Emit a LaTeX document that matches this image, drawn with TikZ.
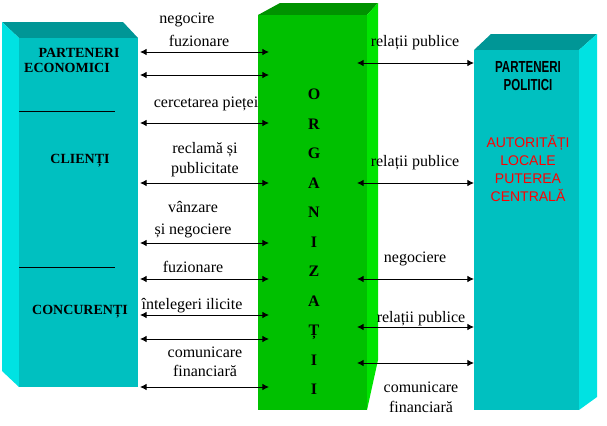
\documentclass[tikz,border=0pt]{standalone}
\usepackage{fontspec}
\setmainfont{Liberation Serif}
\newfontfamily\narrowfont[FakeStretch=0.72]{Liberation Sans}
\newfontfamily\arialfont{Liberation Sans}
\usepackage{xcolor}
\usepackage{tikz}
\usetikzlibrary{arrows.meta}

\definecolor{tealfront}{RGB}{0,192,192}
\definecolor{tealside}{RGB}{0,226,226}
\definecolor{tealtop}{RGB}{0,150,150}
\definecolor{greenfront}{RGB}{0,192,0}
\definecolor{greenside}{RGB}{0,228,0}
\definecolor{greentop}{RGB}{0,146,0}

\begin{document}
\begin{tikzpicture}[x=0.75pt,y=-0.75pt,
  link/.style={{Latex[length=5pt,width=5pt]}-{Latex[length=5pt,width=5pt]}, line width=0.75pt},
  lbl/.style={font=\fontsize{12}{14}\selectfont, text height=0.7em, text depth=0.2em, inner sep=0pt},
  grp/.style={font=\fontsize{10.5}{12}\selectfont\bfseries, text height=0.7em, text depth=0pt, inner sep=0pt},
  org/.style={font=\fontsize{12}{14}\selectfont\bfseries, text height=0.7em, text depth=0pt, inner sep=0pt},
  pol/.style={font=\narrowfont\bfseries\fontsize{12}{14}\selectfont, text height=0.72em, text depth=0pt, inner sep=0pt},
  aut/.style={font=\arialfont\fontsize{10.5}{12}\selectfont, red, text height=0.72em, text depth=0pt, inner sep=0pt}]
\useasboundingbox (0,0) rectangle (607,425);

% Left box (parteneri economici, clienti, concurenti)
\fill[tealtop] (2,22) -- (123,22) -- (138,38) -- (19,38) -- cycle;
\fill[tealside] (2,22) -- (19,38) -- (19,387) -- (2,371) -- cycle;
\fill[tealfront] (19,38) rectangle (138,387);
\draw[line width=0.75pt] (19,111) -- (115,111);
\draw[line width=0.75pt] (19,267) -- (115,267);

\node[grp] (pe1) at (79,52.5) {PARTENERI};
\node[grp] (pe2) at (67,67.5) {ECONOMICI};
\node[grp] (cli) at (80,159) {CLIENȚI};
\node[grp] (con) at (80,309.5) {CONCURENȚI};

% Middle box (organizatii)
\fill[greentop] (258,15) -- (280,3) -- (378,3) -- (367,15) -- cycle;
\fill[greenside] (367,15) -- (378,3) -- (378,360) -- (367,410) -- cycle;
\fill[greenfront] (258,15) rectangle (367,410);

\foreach \l [count=\i] in {O,R,G,A,N,I,Z,A,Ț,I,I}
  \node[org] (o\i) at (314,65.5+29.5*\i) {\l};

% Right box (parteneri politici)
\fill[tealtop] (474,50) -- (491,34) -- (597,34) -- (579,50) -- cycle;
\fill[tealside] (579,50) -- (597,34) -- (597,397) -- (579,410) -- cycle;
\fill[tealfront] (474,50) rectangle (579,410);

\node[pol] (pp1) at (528,67.5) {PARTENERI};
\node[pol] (pp2) at (528,86) {POLITICI};
\node[aut] (au1) at (528,143) {AUTORITĂȚI};
\node[aut] (au2) at (528,161) {LOCALE};
\node[aut] (au3) at (528,179) {PUTEREA};
\node[aut] (au4) at (528,197) {CENTRALĂ};

% Arrows left
\foreach \y [count=\i] in {52,75,123,183,243,279,315,339,387} {
  \coordinate (l\i) at (140,\y);
  \coordinate (m\i) at (269,\y);
  \draw[link] (l\i) -- (m\i);
}
% Arrows right
\foreach \y [count=\i] in {63,183,279,327,363} {
  \coordinate (n\i) at (357,\y);
  \coordinate (r\i) at (474,\y);
  \draw[link] (n\i) -- (r\i);
}

% Labels left
\foreach \x/\y/\t [count=\i] in {187/20/negocire, 199/43/fuzionare,
    206/104/cercetarea pieței, 205/150/reclamă și, 205/170/publicitate,
    193/209/vânzare, 193/231/și negociere, 193/269/fuzionare,
    192/306/întelegeri ilicite, 205/354/comunicare, 205/373/financiară}
  \node[lbl] (t\i) at (\x,\y) {\t};

% Labels right
\foreach \x/\y/\t [count=\i] in {415/43/relații publice, 415/163/relații publice,
    415/259/negociere, 421/319/relații publice, 421/389/comunicare,
    421/409/financiară}
  \node[lbl] (u\i) at (\x,\y) {\t};
\end{tikzpicture}
\end{document}
